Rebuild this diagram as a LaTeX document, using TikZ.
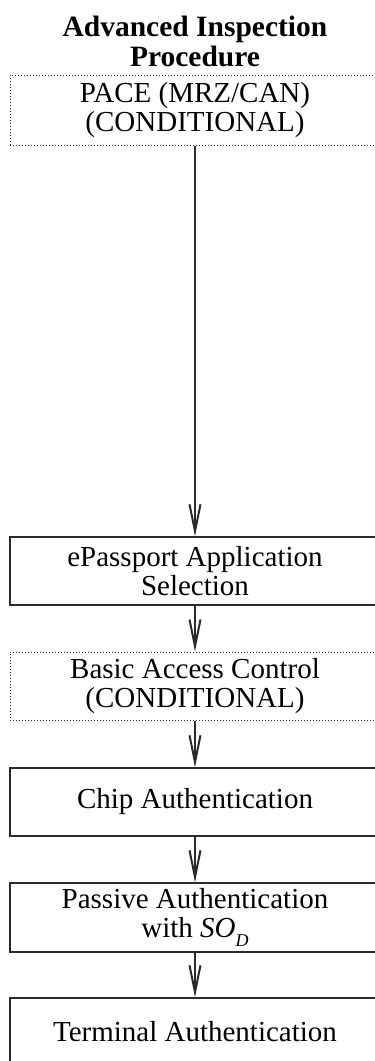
\documentclass[tikz,border=0pt]{standalone}
\usepackage{fontspec}
\setmainfont{Liberation Serif}
\usetikzlibrary{positioning,arrows.meta}
\definecolor{linegray}{HTML}{2A2A2A}
\tikzstyle{box} = [draw=linegray,line width=1.4pt,rectangle,minimum width=370pt,minimum height=68pt,inner sep=0pt,align=center,font=\fontsize{29}{29.5}\selectfont]
\tikzstyle{condbox} = [box,line width=1pt,dotted]
\tikzstyle{arrow} = [draw=linegray,line width=1.5pt,-{Straight Barb[length=27pt,width=11pt,line width=2pt]}]

\begin{document}
\begin{tikzpicture}[x=1pt,y=-1pt]
\useasboundingbox (0,0) rectangle (375,1061);
\node[align=center,font=\fontsize{29.5}{30}\selectfont\bfseries] (title) at (195,41) {Advanced Inspection\\Procedure};
\node[condbox,minimum height=70pt] (pace) at (195,110) {PACE (MRZ/CAN)\\(CONDITIONAL)};
\node[box] (select) at (195,571) {ePassport Application\\Selection};
\node[condbox] (bac) at (195,686) {Basic Access Control\\(CONDITIONAL)};
\node[box] (chip) at (195,802) {Chip Authentication};
\node[box,minimum height=69pt] (passive) at (195,917.5) {Passive Authentication\\with \textit{SO}\raisebox{-9pt}{\fontsize{18}{18}\selectfont\textit{D}}};
\node[box] (terminal) at (195,1032) {Terminal Authentication};

\draw[arrow] (pace) -- (select);
\draw[arrow] (select) -- (bac);
\draw[arrow] (bac) -- (chip);
\draw[arrow] (chip) -- (passive);
\draw[arrow] (passive) -- (terminal);

\end{tikzpicture}
\end{document}
